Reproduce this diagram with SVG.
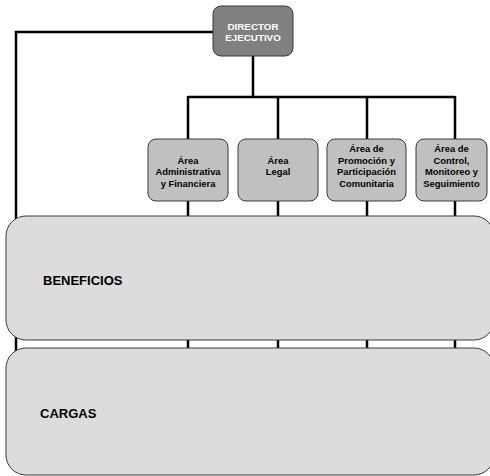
<svg xmlns="http://www.w3.org/2000/svg" width="490" height="476" viewBox="0 0 490 476">
<style>
.conn{stroke:#000;stroke-width:2.5;fill:none}
.dir{fill:#808080;stroke:#3a3a3a;stroke-width:1}
.area{fill:#c0c0c0;stroke:#3a3a3a;stroke-width:1}
.band{fill:#dcdcdc;stroke:#3a3a3a;stroke-width:1}
text{font-family:"Liberation Sans",Arial,sans-serif;font-weight:bold}
.dt{fill:#fff;font-size:9.8px;text-anchor:middle}
.at{fill:#000;font-size:9.4px;text-anchor:middle}
.bt{fill:#000;font-size:13px}
</style>
<rect width="490" height="476" fill="#fff"/>
<g id="connectors">
<polyline class="conn" points="213,32 16,32 16,390"/>
<line class="conn" x1="253" y1="56" x2="253" y2="97"/>
<line class="conn" x1="188" y1="97" x2="455" y2="97"/>
<line class="conn" x1="188" y1="96" x2="188" y2="390"/>
<line class="conn" x1="278" y1="96" x2="278" y2="390"/>
<line class="conn" x1="367" y1="96" x2="367" y2="390"/>
<line class="conn" x1="455" y1="96" x2="455" y2="390"/>
</g>
<g id="director">
<rect class="dir" x="213" y="6" width="80" height="50" rx="8"/>
<text class="dt" x="253" y="29.5">DIRECTOR</text>
<text class="dt" x="253" y="40.5">EJECUTIVO</text>
</g>
<g id="area-admin">
<rect class="area" x="148" y="139" width="80" height="62" rx="8"/>
<text class="at" x="188" y="163.5">Área</text>
<text class="at" x="188" y="175">Administrativa</text>
<text class="at" x="188" y="186.5">y Financiera</text>
</g>
<g id="area-legal">
<rect class="area" x="238" y="139" width="80" height="62" rx="8"/>
<text class="at" x="278" y="163.5">Área</text>
<text class="at" x="278" y="175">Legal</text>
</g>
<g id="area-promocion">
<rect class="area" x="327" y="139" width="79" height="62" rx="8"/>
<text class="at" x="366.5" y="152">Área de</text>
<text class="at" x="366.5" y="163.5">Promoción y</text>
<text class="at" x="366.5" y="175">Participación</text>
<text class="at" x="366.5" y="186.5">Comunitaria</text>
</g>
<g id="area-control">
<rect class="area" x="416" y="139" width="71" height="62" rx="8"/>
<text class="at" x="451.5" y="152">Área de</text>
<text class="at" x="451.5" y="163.5">Control,</text>
<text class="at" x="451.5" y="175">Monitoreo y</text>
<text class="at" x="451.5" y="186.5">Seguimiento</text>
</g>
<g id="beneficios">
<rect class="band" x="6" y="216" width="488" height="124" rx="20"/>
<text class="bt" x="43" y="285">BENEFICIOS</text>
</g>
<g id="cargas">
<rect class="band" x="6" y="348" width="488" height="127" rx="20"/>
<text class="bt" x="40" y="418">CARGAS</text>
</g>
</svg>
